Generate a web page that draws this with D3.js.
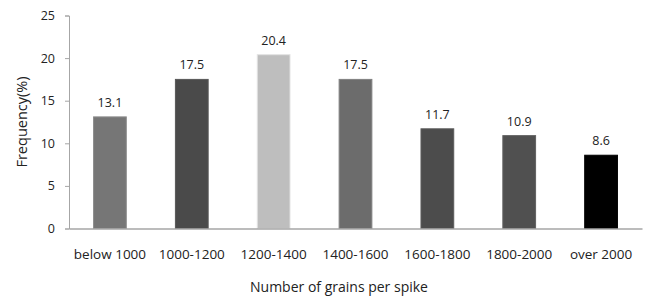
<!DOCTYPE html>
<html>
<head>
<meta charset="utf-8">
<script src="https://cdn.jsdelivr.net/npm/d3@7"></script>
<style>
  body { margin: 0; background: #fff; }
  text { font-family: "Open Sans", "Noto Sans", sans-serif; fill: #222; }
</style>
</head>
<body>
<div id="chart"></div>
<script>
// data
var categories = ['below 1000', '1000-1200', '1200-1400', '1400-1600', '1600-1800', '1800-2000', 'over 2000'];
var frequency = [13.1, 17.5, 20.4, 17.5, 11.7, 10.9, 8.6];
var bar_colors = ['#767676', '#4a4a4a', '#bebebe', '#6c6c6c', '#4c4c4c', '#505050', '#000000'];
var y_ticks = [0, 5, 10, 15, 20, 25];

// plot area (note: "top" is reserved on window, so use plot_* names)
var width = 646, height = 298;
var plot_left = 69, plot_right = 642, plot_top = 15.5, plot_bottom = 228.5;

var svg = d3.select('#chart').append('svg')
    .attr('width', width).attr('height', height);

var x = d3.scaleBand().domain(categories).range([plot_left, plot_right])
    .paddingInner(0.6).paddingOuter(0.3);
var y = d3.scaleLinear().domain([0, 25]).range([plot_bottom, plot_top]);

// y axis
var yAxis = svg.append('g')
    .attr('transform', 'translate(' + plot_left + ',0)')
    .call(d3.axisLeft(y).tickValues(y_ticks).tickSize(4).tickPadding(10));
yAxis.select('.domain').attr('stroke', '#a6a6a6');
yAxis.selectAll('.tick line').attr('stroke', '#a6a6a6');
yAxis.selectAll('.tick text').attr('font-size', '12.5px').attr('fill', '#222')
    .style('font-family', '"Open Sans", sans-serif');

// bars
var bar_group = svg.selectAll('g.bar')
    .data(frequency).enter().append('g').attr('class', 'bar');

bar_group.append('rect')
    .attr('x', function(d, i) { return x(categories[i]); })
    .attr('y', function(d) { return y(d); })
    .attr('width', x.bandwidth())
    .attr('height', function(d) { return y(0) - y(d); })
    .attr('fill', function(d, i) { return bar_colors[i]; })
    .attr('stroke', function(d, i) { return d3.color(bar_colors[i]).brighter(0.5); })
    .attr('stroke-width', 1);

// value labels
bar_group.append('text')
    .attr('text-anchor', 'middle')
    .attr('x', function(d, i) { return x(categories[i]) + x.bandwidth() / 2; })
    .attr('y', function(d) { return y(d) - 10; })
    .attr('font-size', '12.5px')
    .text(function(d) { return d.toFixed(1); });

// x axis
var xAxis = svg.append('g')
    .attr('transform', 'translate(0,' + plot_bottom + ')')
    .call(d3.axisBottom(x).tickSize(0).tickPadding(21));
xAxis.select('.domain').attr('stroke', '#a6a6a6').attr('stroke-width', 1.5);
xAxis.selectAll('.tick text').attr('font-size', '13.5px').attr('fill', '#222')
    .style('font-family', '"Open Sans", sans-serif');

// axis titles
svg.append('text')
    .attr('text-anchor', 'middle')
    .attr('x', 339).attr('y', 292)
    .attr('font-size', '14px')
    .text('Number of grains per spike');

svg.append('text')
    .attr('text-anchor', 'middle')
    .attr('transform', 'translate(27,122) rotate(-90)')
    .attr('font-size', '14.5px')
    .text('Frequency(%)');
</script>
</body>
</html>
